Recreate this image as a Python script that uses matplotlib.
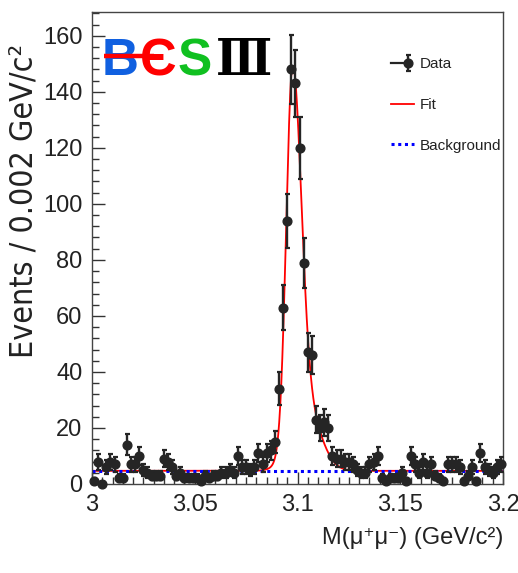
import numpy as np
import matplotlib
matplotlib.use("Agg")
import matplotlib.pyplot as plt
from matplotlib.lines import Line2D
from matplotlib.legend_handler import HandlerTuple
from matplotlib.ticker import MultipleLocator, FixedLocator, FixedFormatter

plt.rcParams['font.family'] = ['Liberation Sans Narrow', 'Liberation Sans', 'DejaVu Sans']
plt.rcParams['font.stretch'] = 'condensed'

# events per 2 MeV bin, M(mu mu) from 3.0 to 3.2 GeV
bin_lo = 3.0
bin_w = 0.002
counts = [1, 8, 0, 6, 8, 7, 2, 2, 14, 7,
          7, 10, 5, 4, 3, 3, 3, 9, 8, 6,
          3, 4, 2, 2, 2, 2, 1, 3, 2, 3,
          3, 4, 4, 5, 4, 10, 6, 6, 5, 6,
          11, 7, 11, 12, 15, 34, 63, 94, 148, 143,
          120, 79, 47, 46, 23, 20, 22, 20, 10, 9,
          9, 8, 8, 7, 5, 4, 4, 7, 8, 10,
          2, 1, 2, 2, 2, 4, 1, 10, 7, 4,
          8, 4, 7, 3, 2, 1, 7, 7, 7, 6,
          1, 3, 6, 1, 11, 6, 5, 4, 6, 7]

# fit result (flat background + asymmetric peak with a tail)
bkg = 4.7
peak_mean = 3.0975
peak_amp = 130.0
sig_left = 0.003
sig_right = 0.0042
tail_mean = 3.104
tail_sig = 0.007
tail_amp = 22.0

xticks = [3.0, 3.05, 3.1, 3.15, 3.2]
xtick_labels = ["3", "3.05", "3.1", "3.15", "3.2"]
yticks = [0, 20, 40, 60, 80, 100, 120, 140, 160]


def fit_model(m):
    sig = np.where(m < peak_mean, sig_left, sig_right)
    core = peak_amp * np.exp(-0.5 * ((m - peak_mean) / sig) ** 2)
    tail = tail_amp * np.exp(-0.5 * ((m - tail_mean) / tail_sig) ** 2)
    return core + tail + bkg


counts = np.array(counts, dtype=float)
centers = bin_lo + bin_w * (np.arange(len(counts)) + 0.5)
errs = np.sqrt(counts)
mgrid = np.linspace(3.0, 3.2, 2001)

fig = plt.figure(figsize=(5.18, 5.73), dpi=100)
ax = fig.add_axes([92 / 518, 1 - 484 / 573, 411 / 518, 472 / 573])

fit_line, = ax.plot(mgrid, fit_model(mgrid), color='red', lw=1.3, zorder=2)
bkg_line = ax.axhline(bkg, color='blue', ls=(0, (1, 1.2)), lw=2.2, zorder=2.5)
dat = ax.errorbar(centers, counts, yerr=errs, fmt='o', color='#252525', ms=6.3,
                  elinewidth=1.7, capsize=1.8, capthick=1.6, zorder=3, clip_on=False)

ax.set_xlim(3.0, 3.2)
ax.set_ylim(0, 168.5)
ax.xaxis.set_major_locator(FixedLocator(xticks))
ax.xaxis.set_major_formatter(FixedFormatter(xtick_labels))
ax.xaxis.set_minor_locator(MultipleLocator(0.005))
ax.yaxis.set_major_locator(FixedLocator(yticks))
ax.yaxis.set_minor_locator(MultipleLocator(4))
ax.tick_params(which='both', direction='in', top=False, right=False,
               color='#333333', labelsize=17, labelcolor='#222222')
ax.tick_params(which='major', length=9, width=1, pad=7)
ax.tick_params(which='minor', length=5, width=1)
for s in ax.spines.values():
    s.set_color('#444444')
    s.set_linewidth(1)

ax.set_ylabel("Events / 0.002 GeV/c²", family='DejaVu Sans', fontsize=23,
              color='#222222', va='center')
ax.yaxis.set_label_coords(-0.165, 0.6)
ax.set_xlabel("M(μ⁺μ⁻) (GeV/c²)", fontsize=17, color='#222222', ha='right', va='top')
ax.xaxis.set_label_coords(1.0, -0.092)

cross = Line2D([], [], color='#252525', lw=1.6)
ax.legend([(cross, dat), fit_line, bkg_line], ["Data", "Fit", "Background"],
          handler_map={tuple: HandlerTuple(ndivide=None)},
          loc='upper left', bbox_to_anchor=(0.728, 0.904), frameon=False,
          fontsize=11, labelspacing=1.75, handlelength=1.5, handletextpad=0.4,
          borderpad=0, borderaxespad=0, labelcolor='#222222')

# BESIII logo
logo_y = 0.866
logo_size = 37
ax.text(0.024, logo_y, "B", transform=ax.transAxes, color='#1060e0', fontsize=logo_size,
        fontweight='bold', family='Liberation Sans', va='baseline')
ax.text(0.116, logo_y, "Є", transform=ax.transAxes, color='red', fontsize=logo_size,
        fontweight='bold', family='Liberation Sans', va='baseline')
ax.plot([0.03, 0.15], [0.907, 0.907], transform=ax.transAxes, color='red',
        lw=3.2, solid_capstyle='butt', zorder=4)
ax.text(0.209, logo_y, "S", transform=ax.transAxes, color='#10c020', fontsize=logo_size,
        fontweight='bold', family='Liberation Sans', va='baseline')
ax.text(0.302, logo_y, "Ⅲ", transform=ax.transAxes, color='black', fontsize=logo_size,
        fontweight='bold', family=['DejaVu Serif', 'DejaVu Sans'], va='baseline')

fig.savefig("out.png", dpi=100)
